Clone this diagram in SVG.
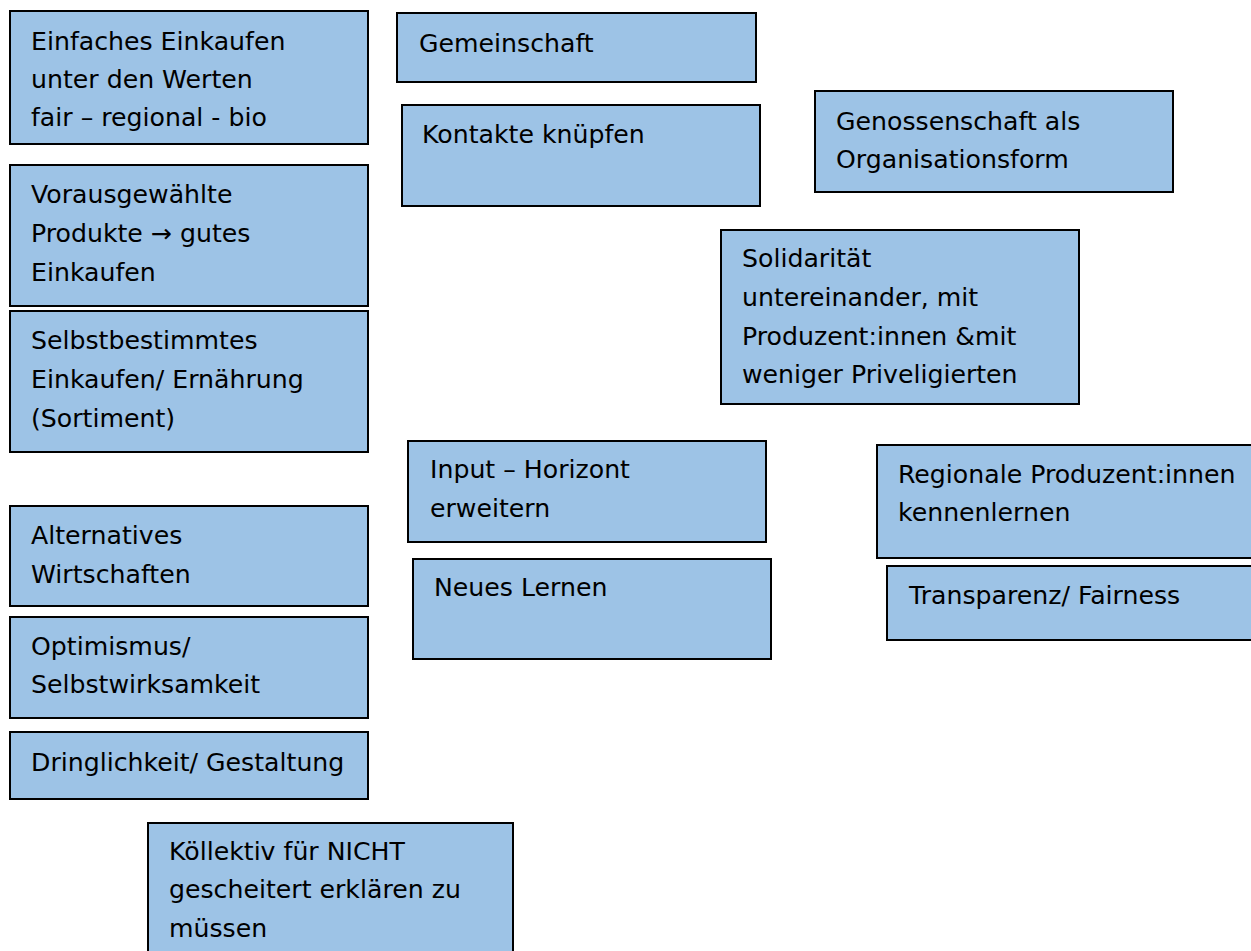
<svg xmlns="http://www.w3.org/2000/svg" width="1251" height="951" viewBox="0 0 1251 951">
<style>
.box{fill:#9DC3E6;stroke:#000;stroke-width:2}
.t{font-family:"DejaVu Sans","Liberation Sans",sans-serif;font-size:25.2px;fill:#000}
</style>
<rect x="0" y="0" width="1251" height="951" fill="#fff"/>
<g id="connectors"></g>
<g id="n1"><rect class="box" x="10" y="11" width="358" height="133"/><text class="t" x="31" y="50">Einfaches Einkaufen</text><text class="t" x="31" y="88">unter den Werten</text><text class="t" x="31" y="126">fair – regional - bio</text></g>
<g id="n2"><rect class="box" x="10" y="165" width="358" height="141"/><text class="t" x="31" y="203">Vorausgewählte</text><text class="t" x="31" y="242">Produkte → gutes</text><text class="t" x="31" y="281">Einkaufen</text></g>
<g id="n3"><rect class="box" x="10" y="311" width="358" height="141"/><text class="t" x="31" y="349">Selbstbestimmtes</text><text class="t" x="31" y="388">Einkaufen/ Ernährung</text><text class="t" x="31" y="427">(Sortiment)</text></g>
<g id="n4"><rect class="box" x="10" y="506" width="358" height="100"/><text class="t" x="31" y="544">Alternatives</text><text class="t" x="31" y="583">Wirtschaften</text></g>
<g id="n5"><rect class="box" x="10" y="617" width="358" height="101"/><text class="t" x="31" y="655">Optimismus/</text><text class="t" x="31" y="693">Selbstwirksamkeit</text></g>
<g id="n6"><rect class="box" x="10" y="732" width="358" height="67"/><text class="t" x="31" y="771">Dringlichkeit/ Gestaltung</text></g>
<g id="n7"><rect class="box" x="148" y="823" width="365" height="140"/><text class="t" x="169" y="860">Köllektiv für NICHT</text><text class="t" x="169" y="898">gescheitert erklären zu</text><text class="t" x="169" y="937">müssen</text></g>
<g id="n8"><rect class="box" x="397" y="13" width="359" height="69"/><text class="t" x="419" y="52">Gemeinschaft</text></g>
<g id="n9"><rect class="box" x="402" y="105" width="358" height="101"/><text class="t" x="422" y="143">Kontakte knüpfen</text></g>
<g id="n10"><rect class="box" x="815" y="91" width="358" height="101"/><text class="t" x="836" y="130">Genossenschaft als</text><text class="t" x="836" y="168">Organisationsform</text></g>
<g id="n11"><rect class="box" x="721" y="230" width="358" height="174"/><text class="t" x="742" y="267">Solidarität</text><text class="t" x="742" y="306">untereinander, mit</text><text class="t" x="742" y="345">Produzent:innen &amp;mit</text><text class="t" x="742" y="383">weniger Priveligierten</text></g>
<g id="n12"><rect class="box" x="408" y="441" width="358" height="101"/><text class="t" x="430" y="478">Input – Horizont</text><text class="t" x="430" y="517">erweitern</text></g>
<g id="n13"><rect class="box" x="413" y="559" width="358" height="100"/><text class="t" x="434" y="596">Neues Lernen</text></g>
<g id="n14"><rect class="box" x="877" y="445" width="390" height="113"/><text class="t" x="898" y="483">Regionale Produzent:innen</text><text class="t" x="898" y="521">kennenlernen</text></g>
<g id="n15"><rect class="box" x="887" y="566" width="380" height="74"/><text class="t" x="909" y="604">Transparenz/ Fairness</text></g>
</svg>
